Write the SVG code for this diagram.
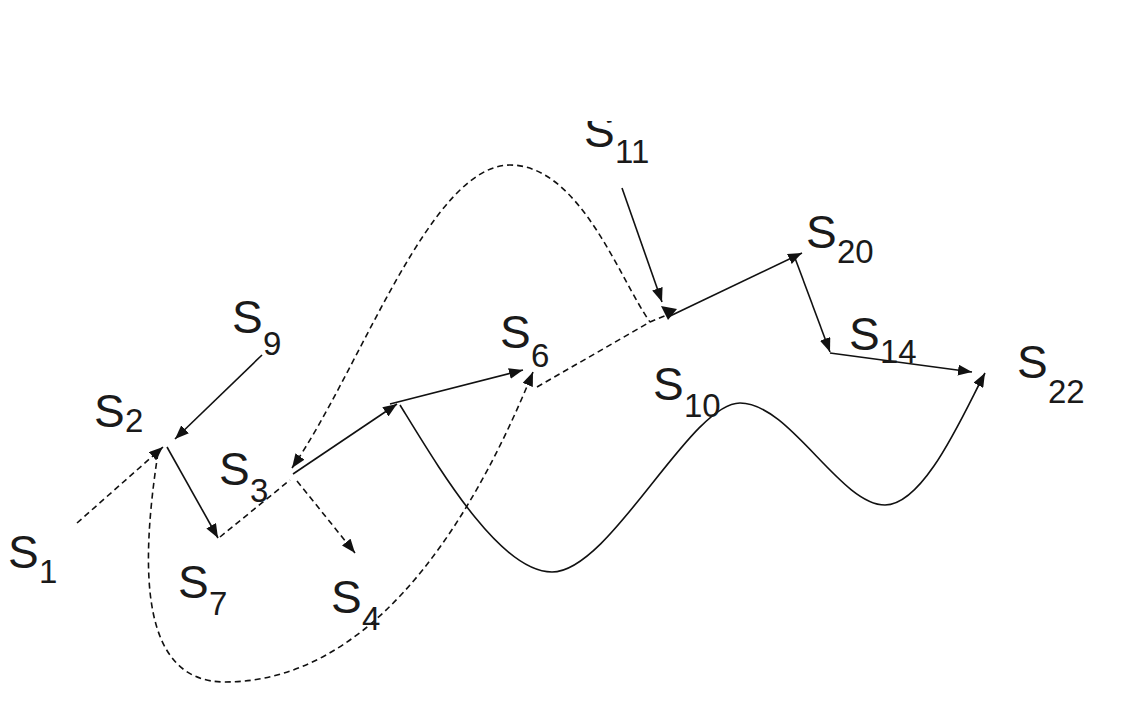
<svg xmlns="http://www.w3.org/2000/svg" width="1141" height="717" viewBox="0 0 1141 717">
<style>
.s{font-family:"Liberation Sans",Arial,sans-serif;font-size:46px;fill:#1a1a1a}
.d{font-size:33px}
.ln{fill:none;stroke:#111;stroke-width:1.6}
.ds{fill:none;stroke:#111;stroke-width:1.6;stroke-dasharray:6 4}
</style>
<defs>
<marker id="ah" markerUnits="userSpaceOnUse" markerWidth="15" markerHeight="11" refX="14" refY="5.5" orient="auto-start-reverse" viewBox="0 0 15 11">
<path d="M0,0 L14,5.5 L0,11 z" fill="#111"/>
</marker>
<clipPath id="cut11"><rect x="560" y="121" width="120" height="60"/></clipPath>
</defs>
<rect width="1141" height="717" fill="#fff"/>
<g id="connectors">
<path class="ds" d="M77,523 L163,447" marker-end="url(#ah)"/>
<path class="ln" d="M262,355 L175,439" marker-end="url(#ah)"/>
<path class="ln" d="M167,447 L218,538" marker-end="url(#ah)"/>
<path class="ds" d="M220,537 L290,480"/>
<path class="ln" d="M293,474 L397,404" marker-end="url(#ah)"/>
<path class="ds" d="M297,481 L355,553" marker-end="url(#ah)"/>
<path class="ln" d="M390,404 L523,370" marker-end="url(#ah)"/>
<path class="ds" d="M292,468 C360,370 430,165 510,165 C580,165 620,280 650,322" marker-start="url(#ah)"/>
<path class="ds" d="M158,453 C140,570 140,682 225,682 C330,682 440,600 533,372" marker-end="url(#ah)"/>
<path class="ds" d="M537,387 L650,322 L667,315"/>
<path class="ln" d="M622,188 L662,302" marker-end="url(#ah)"/>
<path d="M661,306 L677,309 L668,320 z" fill="#111"/>
<path class="ln" d="M668,317 L802,253" marker-end="url(#ah)"/>
<path class="ln" d="M795,258 L830,352" marker-end="url(#ah)"/>
<path class="ln" d="M830,353 L972,372" marker-end="url(#ah)"/>
<path class="ln" d="M400,405 C440,470 500,572 552,572 C610,572 690,403 740,403 C790,403 840,505 885,505 C925,505 965,410 985,373" marker-end="url(#ah)"/>
</g>
<g id="S1"><text class="s" x="8" y="568">S<tspan class="d" x="39" y="583">1</tspan></text></g>
<g id="S2"><text class="s" x="94" y="427">S<tspan class="d" x="125" y="432">2</tspan></text></g>
<g id="S9"><text class="s" x="232" y="333">S<tspan class="d" x="263" y="355">9</tspan></text></g>
<g id="S3"><text class="s" x="219" y="485">S<tspan class="d" x="250" y="502">3</tspan></text></g>
<g id="S7"><text class="s" x="178" y="598">S<tspan class="d" x="209" y="615">7</tspan></text></g>
<g id="S4"><text class="s" x="331" y="613">S<tspan class="d" x="362" y="630">4</tspan></text></g>
<g id="S6"><text class="s" x="500" y="348">S<tspan class="d" x="531" y="367">6</tspan></text></g>
<g id="S11" clip-path="url(#cut11)"><text class="s" x="584" y="147">S<tspan class="d" x="615" y="163">11</tspan></text></g>
<g id="S20"><text class="s" x="806" y="248">S<tspan class="d" x="837" y="263">20</tspan></text></g>
<g id="S14"><text class="s" x="849" y="350">S<tspan class="d" x="880" y="363">14</tspan></text></g>
<g id="S10"><text class="s" x="653" y="400">S<tspan class="d" x="684" y="417">10</tspan></text></g>
<g id="S22"><text class="s" x="1017" y="378">S<tspan class="d" x="1048" y="403">22</tspan></text></g>
</svg>
